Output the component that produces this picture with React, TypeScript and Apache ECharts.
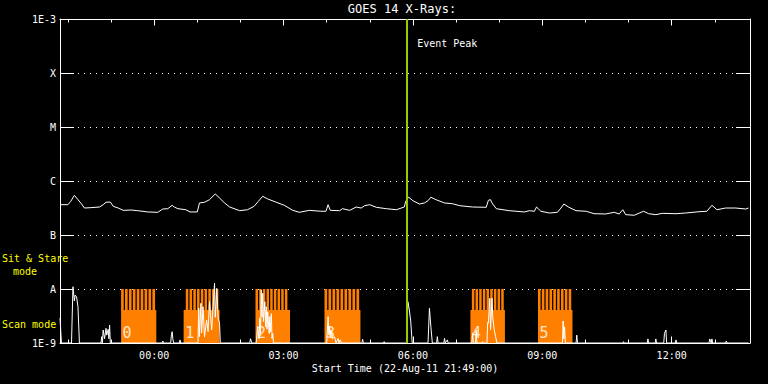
import React, { useEffect, useRef } from "react";
import * as echarts from "echarts";

// ---------- data ----------
const TITLE = "GOES 14 X-Rays:";
const START_LABEL = "Start Time (22-Aug-11 21:49:00)";
const START_CLOCK = "21:49";
const SPAN_MIN = 960; // 16 hours shown

const HOUR_TICKS = ["22:00", "23:00", "00:00", "01:00", "02:00", "03:00", "04:00", "05:00", "06:00", "07:00", "08:00", "09:00", "10:00", "11:00", "12:00", "13:00"];
const TICK_LABELS = ["00:00", "03:00", "06:00", "09:00", "12:00"];

const LEVEL_EXP = [-9, -8, -7, -6, -5, -4, -3];
const LEVEL_NAMES = ["1E-9", "A", "B", "C", "M", "X", "1E-3"];

const EVENT_PEAK_MIN = 483; // minutes after start

// long-wavelength channel: [minutes after start, flux (x1e-7 W/m2)]
const upperSeries: [number, number][] = [
  [1, 3.64], [11, 3.64], [15, 4.21], [20, 5.43], [25, 4.51], [30, 3.75], [34, 3.16], [43, 3.21], [55, 3.3], [60, 3.64],
  [64, 4.04], [70, 4.08], [74, 3.4], [81, 3.16], [88, 2.86], [99, 2.9], [108, 2.82], [122, 2.67], [136, 2.63], [143, 3.03],
  [150, 3.07], [156, 3.55], [159, 3.3], [164, 3.07], [175, 2.94], [181, 2.67], [191, 2.67], [194, 3.92], [201, 4.04], [208, 4.51],
  [216, 5.75], [222, 4.84], [229, 3.92], [236, 3.3], [250, 2.82], [261, 2.94], [270, 3.4], [276, 4.21], [282, 5.21], [289, 4.65],
  [300, 4.08], [312, 3.55], [324, 2.86], [333, 2.63], [347, 2.86], [363, 2.75], [370, 2.75], [373, 3.64], [376, 2.86], [389, 2.82],
  [393, 3.07], [403, 2.86], [412, 3.3], [419, 3.16], [424, 3.49], [431, 3.64], [440, 3.26], [454, 3.07], [468, 2.94], [479, 3.3],
  [481, 4.21], [485, 5.01], [491, 4.32], [500, 3.75], [507, 3.92], [512, 4.32], [516, 5.01], [523, 4.51], [535, 3.92], [546, 3.8],
  [556, 3.49], [574, 3.3], [593, 3.26], [596, 4.4], [599, 4.51], [601, 3.92], [607, 3.07], [625, 2.82], [646, 2.67], [653, 2.82],
  [660, 2.75], [663, 3.3], [669, 2.75], [681, 2.55], [692, 2.63], [697, 3.16], [701, 3.75], [708, 3.26], [718, 2.82], [732, 2.75],
  [743, 2.48], [759, 2.45], [771, 2.63], [778, 2.45], [783, 2.94], [787, 2.38], [799, 2.32], [806, 2.55], [812, 2.75], [819, 2.48],
  [829, 2.38], [838, 2.52], [857, 2.48], [870, 2.55], [889, 2.7], [900, 2.75], [907, 3.55], [914, 2.94], [926, 3.16], [940, 3.16],
  [954, 3.03], [958, 3.16],
];

// short-wavelength channel: [minutes after start, flux (x1e-9 W/m2)], 1 = floor
const lowerSeries: [number, number][] = [
  [0, 2.9], [2, 1],
  [16, 1], [18, 11.0], [20, 6.0], [21, 7.7], [23, 7.2], [25, 4.7], [27, 1],
  [57, 1], [58, 1.31], [59, 1], [60, 1.74], [62, 1.2], [64, 1.87], [65, 1.4], [67, 1.79], [68, 1.2], [69, 2.15], [70, 1],
  [142, 1], [143, 1.09], [144, 1],
  [154, 1], [155, 1.4], [156, 1.62], [157, 1.2], [158, 1],
  [166, 1], [167, 1.14], [168, 1],
  [192, 1], [193, 4.39], [194, 1.31], [196, 5.43], [197, 1.53], [199, 4.7], [201, 1.31], [204, 2.67], [206, 1.62], [208, 5.82],
  [211, 1.74], [213, 4.7], [215, 12.8], [216, 3.0], [218, 10.3], [220, 2.87], [222, 2.32], [223, 1],
  [264, 1], [265, 1.2], [267, 1],
  [273, 1], [275, 2.0], [277, 1.2], [278, 2.9], [279, 1.5], [280, 9.6], [281, 3.0], [282, 8.3], [283, 2.5], [285, 5.8],
  [286, 2.0], [287, 4.7], [288, 1.8], [289, 3.8], [291, 1.5], [292, 3.1], [293, 1.6], [294, 3.5], [295, 1.2], [296, 1.5], [297, 1],
  [371, 1], [373, 3.07], [374, 1.4], [375, 2.0], [376, 1.3], [377, 1.74], [379, 1.2], [382, 1.31], [384, 1], [387, 1.22], [388, 1],
  [390, 1.14], [391, 1],
  [420, 1], [421, 1.17], [422, 1],
  [450, 1], [451, 1.06], [452, 1],
  [482, 1], [484, 5.82], [486, 4.08], [488, 2.48], [490, 1],
  [512, 1], [514, 4.39], [516, 2.0], [518, 1],
  [524, 1], [525, 1.31], [526, 1],
  [534, 1], [535, 1.22], [536, 1], [539, 1.14], [540, 1],
  [573, 1], [574, 1.51], [575, 1], [578, 1], [579, 1.74], [580, 1], [587, 1], [588, 1.06], [589, 1],
  [594, 1], [595, 2.4], [596, 2.32], [598, 6.73], [599, 1.74], [601, 6.73], [602, 3.07], [604, 1.8], [606, 1.31], [608, 1],
  [699, 1], [700, 2.55], [701, 1.2], [702, 2.0], [703, 1],
  [718, 1], [719, 1.4], [720, 1],
  [783, 1], [784, 1.06], [785, 1],
  [817, 1], [818, 1.19], [819, 1],
  [828, 1], [829, 1.19], [830, 1],
  [840, 1], [841, 1.51], [843, 1.74], [844, 1],
  [856, 1], [857, 1.14], [858, 1],
  [903, 1], [904, 1.19], [906, 1], [907, 1.19], [908, 1],
  [926, 1], [927, 1.09], [928, 1],
  [958, 1],
];

// observing blocks (minutes after start)
const blockStart = [85, 172, 272, 368, 571, 665];
const blockEnd = [134, 222, 320, 418, 619, 713];
const combStart = [85, 175, 272, 368, 573, 665];
const combEnd = [134, 222, 318, 418, 619, 713];
const blockStripes = [9, 9, 9, 9, 9, 9];
const blockLabels = ["0", "1", "2", "3", "4", "5"];
const SCAN_TOP = 4.1e-9;
const STARE_TOP = 1e-8;

// ---------- helpers ----------
const MONO = '"DejaVu Sans Mono", monospace';
const clockToMin = (s: string) => {
  const [h, m] = s.split(":").map(Number);
  return h * 60 + m;
};
const START_MIN = clockToMin(START_CLOCK);
const sinceStart = (s: string) => (clockToMin(s) - START_MIN + 1440) % 1440;
const fmtClock = (v: number) => {
  const t = Math.round(START_MIN + v) % 1440;
  const h = Math.floor(t / 60);
  const m = t % 60;
  return `${String(h).padStart(2, "0")}:${String(m).padStart(2, "0")}`;
};

const minorTicks = HOUR_TICKS.map(sinceStart);
const majorTicks = TICK_LABELS.map(sinceStart);

export default function App() {
  const ref = useRef<HTMLDivElement>(null);

  useEffect(() => {
    if (!ref.current) return;
    const chart = echarts.init(ref.current, null, { renderer: "svg" });

    const xBase = {
      type: "value",
      min: 0,
      max: SPAN_MIN,
      splitLine: { show: false },
      axisLabel: { show: false },
      axisLine: { show: false, onZero: false },
    };

    const option: any = {
      animation: false,
      backgroundColor: "#000",
      grid: { left: 60, right: 18, top: 19, bottom: 41, containLabel: false },
      xAxis: [
        {
          ...xBase,
          position: "bottom",
          axisLine: { show: true, onZero: false, lineStyle: { color: "#fff", width: 1 } },
          axisTick: { show: true, inside: true, length: 3.5, customValues: minorTicks, lineStyle: { color: "#fff" } },
          axisLabel: {
            show: true,
            customValues: majorTicks,
            formatter: (v: number) => fmtClock(v),
            color: "#fff",
            fontFamily: MONO,
            fontSize: 10,
            margin: 7,
          },
        },
        {
          ...xBase,
          position: "bottom",
          axisTick: { show: true, inside: true, length: 6.5, customValues: majorTicks, lineStyle: { color: "#fff" } },
        },
        {
          ...xBase,
          position: "top",
          axisLine: { show: true, onZero: false, lineStyle: { color: "#fff", width: 1 } },
          axisTick: { show: true, inside: true, length: 3.5, customValues: minorTicks, lineStyle: { color: "#fff" } },
        },
        {
          ...xBase,
          position: "top",
          axisTick: { show: true, inside: true, length: 6.5, customValues: majorTicks, lineStyle: { color: "#fff" } },
        },
      ],
      yAxis: [
        {
          type: "value",
          position: "left",
          min: LEVEL_EXP[0],
          max: LEVEL_EXP[LEVEL_EXP.length - 1],
          interval: 1,
          axisLine: { show: true, onZero: false, lineStyle: { color: "#fff", width: 1 } },
          axisTick: { show: true, inside: true, length: 14, lineStyle: { color: "#fff" } },
          axisLabel: {
            color: "#fff",
            fontFamily: MONO,
            fontSize: 10,
            margin: 4,
            formatter: (v: number) => LEVEL_NAMES[LEVEL_EXP.indexOf(Math.round(v))] ?? "",
          },
          splitLine: { show: true, lineStyle: { color: "#fff", width: 1, type: [1, 5] } },
        },
        {
          type: "value",
          position: "right",
          min: LEVEL_EXP[0],
          max: LEVEL_EXP[LEVEL_EXP.length - 1],
          interval: 1,
          axisLine: { show: true, onZero: false, lineStyle: { color: "#fff", width: 1 } },
          axisTick: { show: true, inside: true, length: 14, lineStyle: { color: "#fff" } },
          axisLabel: { show: false },
          splitLine: { show: false },
        },
      ],
      series: [
        {
          type: "custom",
          name: "blocks",
          z: 1,
          xAxisIndex: 0,
          yAxisIndex: 0,
          data: blockStart.map((s, i) => [s, blockEnd[i], combStart[i], combEnd[i], blockStripes[i], i]),
          renderItem: (params: any, api: any) => {
            const s = api.value(0);
            const e = api.value(1);
            const cs = api.value(2);
            const ce = api.value(3);
            const n = api.value(4);
            const idx = api.value(5);
            const bottom = api.coord([s, LEVEL_EXP[0]]);
            const scanTop = api.coord([e, Math.log10(SCAN_TOP)]);
            const c0 = api.coord([cs, Math.log10(STARE_TOP)]);
            const c1 = api.coord([ce, Math.log10(SCAN_TOP)]);
            const children: any[] = [
              {
                type: "rect",
                shape: { x: bottom[0], y: scanTop[1], width: scanTop[0] - bottom[0], height: bottom[1] - scanTop[1] },
                style: { fill: "#ff8000" },
              },
            ];
            const period = (c1[0] - c0[0]) / n;
            for (let k = 0; k < n; k++) {
              children.push({
                type: "rect",
                shape: { x: c0[0] + k * period, y: c0[1], width: period * 0.68, height: c1[1] - c0[1] + 0.5 },
                style: { fill: "#ff8000" },
              });
            }
            children.push({
              type: "text",
              x: bottom[0] + 1.5,
              y: bottom[1] - 10,
              style: {
                text: blockLabels[idx],
                fill: "#ffe6cc",
                fontFamily: MONO,
                fontSize: 15,
                align: "left",
                verticalAlign: "middle",
              },
            });
            return { type: "group", children };
          },
        },
        {
          type: "line",
          name: "short",
          z: 3,
          xAxisIndex: 0,
          yAxisIndex: 0,
          showSymbol: false,
          symbol: "none",
          lineStyle: { color: "#fff", width: 1 },
          data: lowerSeries.map(([m, v]) => [m, Math.log10(v * 1e-9)]),
        },
        {
          type: "line",
          name: "long",
          z: 4,
          xAxisIndex: 0,
          yAxisIndex: 0,
          showSymbol: false,
          symbol: "none",
          lineStyle: { color: "#fff", width: 1 },
          data: upperSeries.map(([m, v]) => [m, Math.log10(v * 1e-7)]),
          markLine: {
            silent: true,
            symbol: "none",
            label: { show: false },
            lineStyle: { color: "#99cc00", width: 2, type: "solid" },
            data: [{ xAxis: EVENT_PEAK_MIN }],
          },
        },
      ],
    };
    chart.setOption(option);

    const peakX = chart.convertToPixel({ xAxisIndex: 0 }, EVENT_PEAK_MIN) as number;
    const plotCenter = (60 + (768 - 18)) / 2;
    chart.setOption({
      graphic: [
        {
          type: "text",
          x: plotCenter - 3,
          y: 9,
          style: { text: TITLE, fill: "#fff", fontFamily: MONO, fontSize: 12, align: "center", verticalAlign: "middle" },
        },
        {
          type: "text",
          x: plotCenter,
          y: 368.5,
          style: { text: START_LABEL, fill: "#fff", fontFamily: MONO, fontSize: 10, align: "center", verticalAlign: "middle" },
        },
        {
          type: "text",
          x: peakX + 10,
          y: 43,
          style: { text: "Event Peak", fill: "#fff", fontFamily: MONO, fontSize: 10, align: "left", verticalAlign: "middle" },
        },
        {
          type: "text",
          x: 2,
          y: 258,
          style: { text: "Sit & Stare", fill: "#ffff00", fontFamily: MONO, fontSize: 10, align: "left", verticalAlign: "middle" },
        },
        {
          type: "text",
          x: 25,
          y: 271,
          style: { text: "mode", fill: "#ffff00", fontFamily: MONO, fontSize: 10, align: "center", verticalAlign: "middle" },
        },
        {
          type: "text",
          x: 2,
          y: 324,
          style: { text: "Scan mode", fill: "#ffff00", fontFamily: MONO, fontSize: 10, align: "left", verticalAlign: "middle" },
        },
      ],
    });

    return () => chart.dispose();
  }, []);

  return (
    <div
      ref={ref}
      style={{ position: "fixed", left: 0, top: 0, width: 768, height: 384, background: "#000" }}
    />
  );
}
